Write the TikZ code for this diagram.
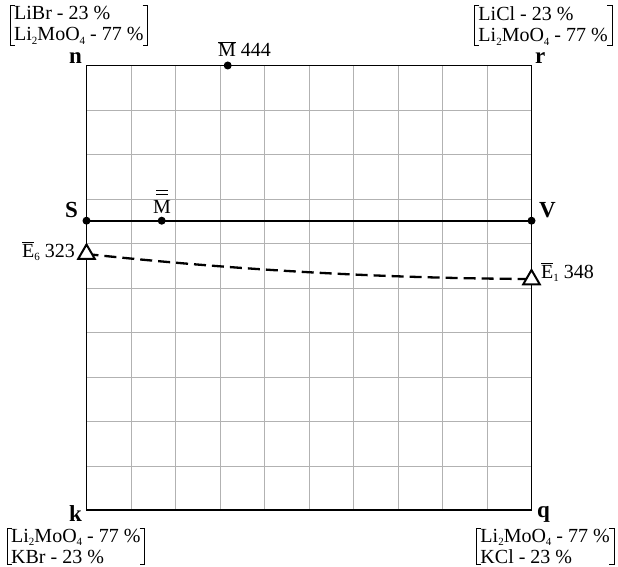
\documentclass[tikz,border=0pt]{standalone}
\usepackage{fontspec}
\setmainfont{Liberation Serif}
\usetikzlibrary{shapes.geometric}
\newcommand\drawbrk[1]{%
  \draw[brkline] ([xshift=5pt]#1.north west) -- (#1.north west) -- (#1.south west) -- ([xshift=5pt]#1.south west);
  \draw[brkline] ([xshift=-5pt]#1.north east) -- (#1.north east) -- (#1.south east) -- ([xshift=-5pt]#1.south east);}
\newcommand\lowsub[1]{\raisebox{-3.5pt}{\fontsize{11}{11}\selectfont #1}}
\begin{document}
\begin{tikzpicture}[x=1pt,y=-1pt,
 gridline/.style={draw=black!30, line width=0.9pt},
 frameline/.style={draw=black, line width=1.5pt},
 mainline/.style={draw=black, line width=2.3pt},
 dashline/.style={draw=black, line width=2.3pt, dash pattern=on 12pt off 6pt},
 dotnode/.style={circle, fill=black, inner sep=0pt, minimum size=8pt},
 tri/.style={regular polygon, regular polygon sides=3, draw=black, fill=white, line width=2pt, inner sep=0pt, minimum size=19pt},
 corner/.style={font=\fontsize{23}{23}\selectfont\bfseries, inner sep=0pt},
 lbl/.style={font=\fontsize{20}{21}\selectfont, inner sep=0pt},
 brk/.style={font=\fontsize{20}{21}\selectfont, align=left, inner xsep=4pt, inner ysep=0.5pt},
 brkline/.style={draw=black, line width=1pt},
 barline/.style={draw=black, line width=1.4pt},
]
\useasboundingbox (0,0) rectangle (618,567);
% grid
\foreach \i in {1,...,9} {
  \draw[gridline] (86.5+44.5*\i,65.5) -- (86.5+44.5*\i,510);
  \draw[gridline] (86.5,65.5+44.5*\i) -- (531.5,65.5+44.5*\i);
}
\coordinate (cn) at (86.5,65.5);
\coordinate (cq) at (531.5,510);
\draw[frameline] (cn) rectangle (cq);
% S-V line
\node[dotnode] (S) at (86.5,220.7) {};
\node[dotnode] (V) at (531.5,220.7) {};
\draw[mainline] (S.center) -- (V.center);
\node[dotnode] (Mbar) at (227.7,65.5) {};
\node[dotnode] (Mdbl) at (161.7,220.7) {};
% dashed curve
\coordinate (cE6) at (86.5,254);
\coordinate (cE1) at (531.5,279);
\draw[dashline] (cE6) .. controls (234.8,270) and (383.2,278.3) .. (cE1);
\node[tri] (E6) at (cE6) {};
\node[tri] (E1) at ([yshift=-0.5pt]cE1) {};
% corner labels
\node[corner, anchor=base east] (ln) at (82,64) {n};
\node[corner, anchor=base west] (lr) at (535,64) {r};
\node[corner, anchor=base east] (lk) at (82,521) {k};
\node[corner, anchor=base west] (lq) at (537,517) {q};
\node[corner, anchor=base east] (lS) at (78,217) {S};
\node[corner, anchor=base west] (lV) at (539,217) {V};
% point labels
\node[lbl, anchor=base west] (lMbar) at (218,57) {$\overline{\mbox{M}}$ 444};
\node[lbl, anchor=base] (lMdbl) at (162,213) {M};
\draw[barline] ([xshift=-6pt,yshift=5pt]lMdbl.north) -- ([xshift=6pt,yshift=5pt]lMdbl.north);
\draw[barline] ([xshift=-6pt,yshift=9.5pt]lMdbl.north) -- ([xshift=6pt,yshift=9.5pt]lMdbl.north);
\node[lbl, anchor=base east] (lE6) at (75,257) {$\overline{\mbox{E}}$\lowsub{6} 323};
\node[lbl, anchor=base west] (lE1) at (541,278) {$\overline{\mbox{E}}$\lowsub{1} 348};
% bracket boxes
\node[brk, anchor=north west] (bTL) at (10,6) {LiBr - 23 \%\\Li\lowsub{2}MoO\lowsub{4} - 77 \%};
\node[brk, anchor=north east] (bTR) at (612,6) {LiCl - 23 \%\\Li\lowsub{2}MoO\lowsub{4} - 77 \%};
\node[brk, anchor=south west] (bBL) at (7,564) {Li\lowsub{2}MoO\lowsub{4} - 77 \%\\KBr - 23 \%};
\node[brk, anchor=south east] (bBR) at (614,564) {Li\lowsub{2}MoO\lowsub{4} - 77 \%\\KCl - 23 \%};
\drawbrk{bTL}
\drawbrk{bTR}
\drawbrk{bBL}
\drawbrk{bBR}
\end{tikzpicture}
\end{document}
